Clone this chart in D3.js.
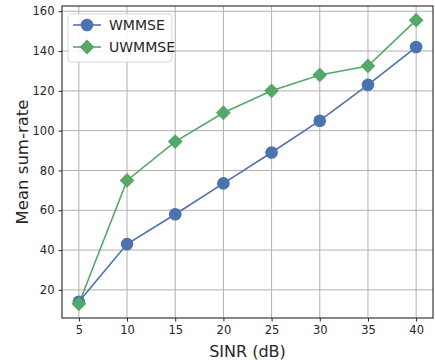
<!DOCTYPE html>
<html>
<head>
<meta charset="utf-8">
<script src="https://cdn.jsdelivr.net/npm/d3@7"></script>
<style>
  body { margin: 0; background: #fff; }
  svg { display: block; font-family: "DejaVu Sans", sans-serif; }
</style>
</head>
<body>
<div id="chart"></div>
<script>
var sinr = [5, 10, 15, 20, 25, 30, 35, 40];
var wmmse = [14, 43, 58, 73.5, 89, 105, 123, 142];
var uwmmse = [13, 75, 94.5, 109, 120, 128, 132.5, 155.5];
var yTicks = [20, 40, 60, 80, 100, 120, 140, 160];
var seriesNames = ["WMMSE", "UWMMSE"];

var width = 435, height = 360;
var margin = { top: 6, right: 2, bottom: 42, left: 62 };
var plotW = width - margin.left - margin.right;
var plotH = height - margin.top - margin.bottom;

var svg = d3.select("#chart").append("svg")
    .attr("width", width)
    .attr("height", height);

var g = svg.append("g")
    .attr("transform", "translate(" + margin.left + "," + margin.top + ")");

// matplotlib style 5% margins
var x = d3.scaleLinear().domain([3.25, 41.75]).range([0, plotW]);
var allY = wmmse.concat(uwmmse);
var ymin = d3.min(allY), ymax = d3.max(allY), pad = (ymax - ymin) * 0.05;
var y = d3.scaleLinear().domain([ymin - pad, ymax + pad]).range([plotH, 0]);

// grid
g.append("g").selectAll("line").data(sinr).enter().append("line")
    .attr("x1", function(d) { return x(d); })
    .attr("x2", function(d) { return x(d); })
    .attr("y1", 0).attr("y2", plotH)
    .attr("stroke", "#b0b0b0").attr("stroke-width", 1);
g.append("g").selectAll("line").data(yTicks).enter().append("line")
    .attr("y1", function(d) { return y(d); })
    .attr("y2", function(d) { return y(d); })
    .attr("x1", 0).attr("x2", plotW)
    .attr("stroke", "#b0b0b0").attr("stroke-width", 1);

// axes
var xAxis = g.append("g")
    .attr("transform", "translate(0," + plotH + ")")
    .call(d3.axisBottom(x).tickValues(sinr).tickSize(3.5).tickPadding(4));
var yAxis = g.append("g")
    .call(d3.axisLeft(y).tickValues(yTicks).tickSize(3.5).tickPadding(4));
[xAxis, yAxis].forEach(function(a) {
    a.select(".domain").remove();
    a.selectAll("text").attr("font-size", 11.5).attr("fill", "#262626")
        .attr("font-family", "DejaVu Sans, sans-serif");
    a.selectAll("line").attr("stroke", "#262626");
});

g.append("rect")
    .attr("width", plotW).attr("height", plotH)
    .attr("fill", "none").attr("stroke", "#262626").attr("stroke-width", 1.1);

// series
var colors = ["#4C72B0", "#55A868"];
var line = d3.line()
    .x(function(d, i) { return x(sinr[i]); })
    .y(function(d) { return y(d); });

g.append("path").datum(uwmmse)
    .attr("d", line).attr("fill", "none")
    .attr("stroke", colors[1]).attr("stroke-width", 1.6);
g.append("path").datum(wmmse)
    .attr("d", line).attr("fill", "none")
    .attr("stroke", colors[0]).attr("stroke-width", 1.6);

var diamond = d3.symbol().type(d3.symbolDiamond2).size(140);
g.selectAll(".dot").data(wmmse).enter().append("circle")
    .attr("cx", function(d, i) { return x(sinr[i]); })
    .attr("cy", function(d) { return y(d); })
    .attr("r", 6.3).attr("fill", colors[0]);
g.selectAll(".dia").data(uwmmse).enter().append("path")
    .attr("d", diamond)
    .attr("transform", function(d, i) { return "translate(" + x(sinr[i]) + "," + y(d) + ")"; })
    .attr("fill", colors[1]);

// legend
var leg = svg.append("g").attr("transform", "translate(68,14)");
leg.append("rect")
    .attr("width", 104).attr("height", 48).attr("rx", 3)
    .attr("fill", "#fff").attr("fill-opacity", 0.85)
    .attr("stroke", "#d6d6d6");
seriesNames.forEach(function(name, i) {
    var cy = 11 + i * 22;
    leg.append("line")
        .attr("x1", 5).attr("x2", 33).attr("y1", cy).attr("y2", cy)
        .attr("stroke", colors[i]).attr("stroke-width", 1.6);
    if (i === 0) {
        leg.append("circle").attr("cx", 19).attr("cy", cy).attr("r", 6.3).attr("fill", colors[i]);
    } else {
        leg.append("path").attr("d", diamond)
            .attr("transform", "translate(19," + cy + ")").attr("fill", colors[i]);
    }
    leg.append("text")
        .attr("x", 41).attr("y", cy).attr("dy", "0.36em")
        .attr("font-size", 14).attr("fill", "#262626")
        .text(name);
});

// labels
svg.append("text")
    .attr("x", margin.left + plotW / 2).attr("y", 357)
    .attr("text-anchor", "middle").attr("font-size", 16).attr("fill", "#262626")
    .text("SINR (dB)");
svg.append("text")
    .attr("transform", "translate(28," + (margin.top + plotH / 2) + ") rotate(-90)")
    .attr("text-anchor", "middle").attr("font-size", 16.5).attr("fill", "#262626")
    .text("Mean sum-rate");
</script>
</body>
</html>
